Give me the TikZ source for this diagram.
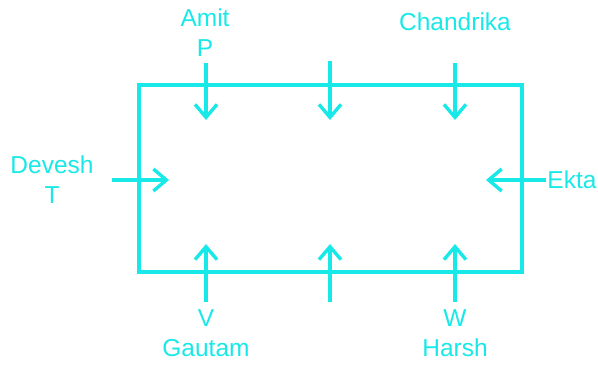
\documentclass[tikz,border=0pt]{standalone}
\usepackage{fontspec}
\setmainfont{Liberation Sans}
\usetikzlibrary{arrows.meta}
\definecolor{seat}{RGB}{25,232,232}
\tikzset{
  person/.style={text=seat, font=\fontsize{24.5}{30}\selectfont, inner sep=0pt, align=center},
  facing/.style={draw=seat, line width=3.4pt, -{Straight Barb[length=13pt,width=22pt,line width=3.4pt]}}
}
\begin{document}
\begin{tikzpicture}[x=1pt,y=-1pt]
  \useasboundingbox (0,0) rectangle (598,365);
  \draw[seat, line width=3.4pt] (139,85) rectangle (522,272);

  % names round the table
  \node[person] (amit) at (205,33) {Amit\\P};
  \node[person] (chandrika) at (455,22) {Chandrika};
  \node[person] (devesh) at (52,180) {Devesh\\T};
  \node[person] (ekta) at (572,180) {Ekta};
  \node[person] (gautam) at (206,333) {V\\Gautam};
  \node[person] (harsh) at (455,333) {W\\Harsh};

  % arrows
  \coordinate (p0) at (206,63);  \coordinate (p1) at (206,120);
  \coordinate (q0) at (330,61);  \coordinate (q1) at (330,120);
  \coordinate (c0) at (455,63);  \coordinate (c1) at (455,120);
  \coordinate (t0) at (112,180); \coordinate (t1) at (169,180);
  \coordinate (e0) at (546,180); \coordinate (e1) at (486,180);
  \coordinate (v0) at (206,302); \coordinate (v1) at (206,244);
  \coordinate (r0) at (330,302); \coordinate (r1) at (330,244);
  \coordinate (w0) at (455,302); \coordinate (w1) at (455,244);
  \draw[facing] (p0) -- (p1);
  \draw[facing] (q0) -- (q1);
  \draw[facing] (c0) -- (c1);
  \draw[facing] (t0) -- (t1);
  \draw[facing] (e0) -- (e1);
  \draw[facing] (v0) -- (v1);
  \draw[facing] (r0) -- (r1);
  \draw[facing] (w0) -- (w1);
\end{tikzpicture}
\end{document}
